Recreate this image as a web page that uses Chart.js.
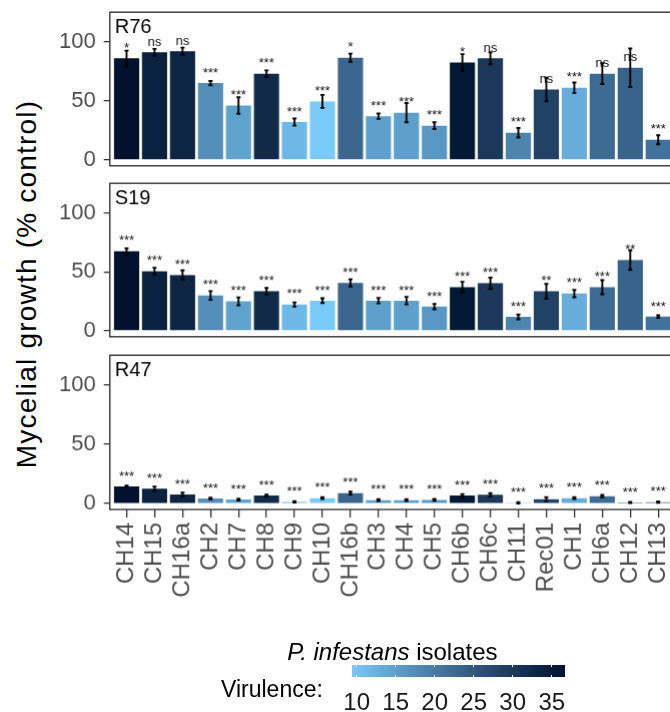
<!DOCTYPE html>
<html>
<head>
<meta charset="utf-8">
<script src="https://cdn.jsdelivr.net/npm/chart.js@4.4.1/dist/chart.umd.min.js"></script>
<style>
  html, body { margin: 0; padding: 0; background: #fff; }
  #wrap { position: relative; width: 670px; height: 712px; overflow: hidden;
          font-family: "Liberation Sans", Arial, sans-serif; }
  #wrap canvas { position: absolute; }
  .txt { position: absolute; white-space: nowrap; line-height: 1; }
  #ytitle { left: 27px; top: 284px; font-size: 28px; letter-spacing: 1.2px; color: #000;
            transform: translate(-50%, -50%) rotate(-90deg); }
  #xtitle { top: 640px; font-size: 24px; color: #000; transform: translateX(-50%); }
  #legtitle { left: 221px; top: 678px; font-size: 23px; color: #000; }
  #colorbar { position: absolute; top: 665px; height: 12px; }
  .cbtick { position: absolute; width: 1px; background: #fff; }
  .cblab { position: absolute; top: 690px; font-size: 24px; color: #1a1a1a;
           transform: translateX(-50%); line-height: 1; }
</style>
</head>
<body>
<div id="wrap">
  <canvas id="pR76"></canvas>
  <canvas id="pS19"></canvas>
  <canvas id="pR47"></canvas>
  <div id="ytitle" class="txt">Mycelial growth (% control)</div>
  <div id="xtitle" class="txt"><i>P. infestans</i> isolates</div>
  <div id="legtitle" class="txt">Virulence:</div>
  <div id="colorbar"></div>
</div>
<script>
// Isolates, in plotting order
const categories = ['CH14','CH15','CH16a','CH2','CH7','CH8','CH9','CH10','CH16b','CH3',
                    'CH4','CH5','CH6b','CH6c','CH11','Rec01','CH1','CH6a','CH12','CH13'];

// Virulence of each isolate (fill colour)
const virulence = [36.7, 34.0, 33.5, 17.3, 14.6, 32.5, 11.6, 9.4, 23.0, 15.0,
                   15.0, 16.0, 35.6, 30.2, 18.5, 28.5, 13.2, 22.3, 23.4, 21.2];

// Mycelial growth (% of control), error and significance per antagonist strain
const r76Mean = [86, 91, 92, 65, 46, 73, 32, 49.5, 86.5, 37, 40, 29, 82.5, 86, 23, 59.5, 61, 73, 78, 17];
const r76Err  = [6.5, 3, 3, 1.8, 7, 2.8, 3, 5.5, 3.4, 2.3, 8.2, 2.8, 7, 5, 4, 10, 4.5, 8.8, 16.3, 3.8];
const r76Sig  = ['*','ns','ns','***','***','***','***','***','*','***','***','***','*','ns','***','ns','***','ns','ns','***'];

const s19Mean = [67.4, 50.5, 47.3, 30, 25, 33.5, 22.3, 25.6, 40.6, 25.6, 25.6, 20.5, 37, 40.3, 11.8, 33.5, 31.6, 37, 60, 12];
const s19Err  = [2.5, 3, 4, 3.7, 3.4, 2.8, 1.8, 2, 3, 2.3, 3.2, 2.3, 4.6, 4.8, 2, 6.3, 3.1, 6, 8.3, 1.1];
const s19Sig  = ['***','***','***','***','***','***','***','***','***','***','***','***','***','***','***','**','***','***','**','***'];

const r47Mean = [14.4, 12.5, 7.7, 4.3, 3.4, 6.8, 1.4, 4.6, 8.8, 2.9, 2.9, 3.1, 6.8, 7.4, 0.6, 3.7, 4.6, 6.3, 0.9, 1.2];
const r47Err  = [0.7, 1.8, 1.5, 0.7, 0.8, 0.8, 0.6, 0.8, 1.2, 0.8, 0.8, 0.8, 1.2, 1.3, 0.5, 1.6, 0.8, 1.0, 0.4, 0.5];
const r47Sig  = ['***','***','***','***','***','***','***','***','***','***','***','***','***','***','***','***','***','***','***','***'];

const yTicks = [0, 50, 100];
const legendBreaks = [10, 15, 20, 25, 30, 35];
const SIG_OFFSET = 5.4;   // significance text sits this far above the mean

// ---- continuous fill scale, interpolated in CIELAB ----
const LOW = '#79C9F9', HIGH = '#02112E';
function hexToRgb(h) { const n = parseInt(h.slice(1), 16); return [(n >> 16) & 255, (n >> 8) & 255, n & 255]; }
function toLin(c) { c /= 255; return c <= 0.04045 ? c / 12.92 : Math.pow((c + 0.055) / 1.055, 2.4); }
function toSrgb(c) { const v = c <= 0.0031308 ? 12.92 * c : 1.055 * Math.pow(c, 1 / 2.4) - 0.055;
  return Math.round(Math.max(0, Math.min(1, v)) * 255); }
function rgbToLab(rgb) {
  const [R, G, B] = rgb.map(toLin);
  const X = (0.4124 * R + 0.3576 * G + 0.1805 * B) / 0.95047;
  const Y = (0.2126 * R + 0.7152 * G + 0.0722 * B);
  const Z = (0.0193 * R + 0.1192 * G + 0.9505 * B) / 1.08883;
  const f = t => t > 0.008856 ? Math.cbrt(t) : 7.787 * t + 16 / 116;
  const fx = f(X), fy = f(Y), fz = f(Z);
  return [116 * fy - 16, 500 * (fx - fy), 200 * (fy - fz)];
}
function labToRgb(lab) {
  const fy = (lab[0] + 16) / 116, fx = fy + lab[1] / 500, fz = fy - lab[2] / 200;
  const inv = t => t * t * t > 0.008856 ? t * t * t : (t - 16 / 116) / 7.787;
  const X = inv(fx) * 0.95047, Y = inv(fy), Z = inv(fz) * 1.08883;
  return [ 3.2406 * X - 1.5372 * Y - 0.4986 * Z,
          -0.9689 * X + 1.8758 * Y + 0.0415 * Z,
           0.0557 * X - 0.2040 * Y + 1.0570 * Z].map(toSrgb);
}
const labLow = rgbToLab(hexToRgb(LOW)), labHigh = rgbToLab(hexToRgb(HIGH));
const vMin = Math.min(...virulence), vMax = Math.max(...virulence);
function fillFor(v) {
  const t = (v - vMin) / (vMax - vMin);
  const lab = labLow.map((c, k) => c + (labHigh[k] - c) * t);
  const [r, g, b] = labToRgb(lab);
  return `rgb(${r},${g},${b})`;
}

// ---- panel decorations: error bars, significance, strip label, border ----
const panelDecor = {
  id: 'panelDecor',
  afterDatasetsDraw(chart, args, opts) {
    const { ctx, chartArea: a, scales: { x, y } } = chart;
    ctx.save();
    ctx.beginPath(); ctx.rect(a.left, a.top, a.right - a.left, a.bottom - a.top); ctx.clip();
    ctx.strokeStyle = '#000'; ctx.lineWidth = 1.9;
    opts.mean.forEach((m, i) => {
      const px = x.getPixelForValue(i);
      const hi = y.getPixelForValue(m + opts.err[i]);
      const lo = y.getPixelForValue(m - opts.err[i]);
      ctx.beginPath();
      ctx.moveTo(px, hi); ctx.lineTo(px, lo);
      ctx.moveTo(px - 2, hi); ctx.lineTo(px + 2, hi);
      ctx.moveTo(px - 2, lo); ctx.lineTo(px + 2, lo);
      ctx.stroke();
    });
    ctx.fillStyle = '#111';
    ctx.font = '13px "Liberation Sans", Arial, sans-serif';
    ctx.textAlign = 'center'; ctx.textBaseline = 'alphabetic';
    opts.sig.forEach((s, i) => {
      const px = x.getPixelForValue(i);
      const py = y.getPixelForValue(opts.mean[i] + SIG_OFFSET);
      ctx.fillText(s, px, py);
    });
    ctx.fillStyle = '#000';
    ctx.font = '20px "Liberation Sans", Arial, sans-serif';
    ctx.textAlign = 'left';
    ctx.fillText(opts.label, a.left + 5, a.top + 20.5);
    ctx.restore();
    ctx.save();
    ctx.strokeStyle = '#333'; ctx.lineWidth = 1.4;
    ctx.strokeRect(a.left, a.top, a.right - a.left, a.bottom - a.top);
    ctx.restore();
  }
};

const PANEL_LEFT = 110;
const PANEL_RIGHT = 674.8;   // panel runs past the right edge of the page
const X_AXIS_H = 190;        // room under the bottom panel for tick labels

function buildPanel(cfg, left, top, w, h) {
  const cv = document.getElementById(cfg.id);
  cv.width = w; cv.height = h;
  cv.style.left = left + 'px'; cv.style.top = top + 'px';
  cv.style.width = w + 'px'; cv.style.height = h + 'px';
  const xScale = {
    type: 'linear', min: -0.6, max: 19.6, offset: false,
    display: cfg.showX,
    afterBuildTicks: s => { s.ticks = categories.map((_, i) => ({ value: i })); },
    grid: { offset: false, drawOnChartArea: false, drawTicks: true, tickLength: 8, color: '#333', lineWidth: 1.3 },
    border: { display: false },
    ticks: {
      autoSkip: false, minRotation: 90, maxRotation: 90, padding: 5,
      color: '#4d4d4d', font: { size: 24, family: '"Liberation Sans", Arial, sans-serif' },
      callback: v => categories[v]
    }
  };
  if (cfg.showX) xScale.afterFit = s => { s.height = X_AXIS_H; };
  return new Chart(cv, {
    type: 'bar',
    data: {
      datasets: [{
        data: cfg.mean.map((v, i) => ({ x: i, y: v })),
        backgroundColor: virulence.map(fillFor),
        borderWidth: 0,
        barPercentage: 0.9,
        categoryPercentage: 1.0
      }]
    },
    options: {
      responsive: false, maintainAspectRatio: false, animation: false, devicePixelRatio: 1,
      layout: { padding: 0 },
      plugins: {
        legend: { display: false }, tooltip: { enabled: false },
        panelDecor: { label: cfg.label, mean: cfg.mean, err: cfg.err, sig: cfg.sig }
      },
      scales: {
        x: xScale,
        y: {
          min: -5, max: 125,
          afterBuildTicks: s => { s.ticks = yTicks.map(v => ({ value: v })); },
          grid: { drawOnChartArea: false, drawTicks: true, tickLength: 6, color: '#333', lineWidth: 1.3 },
          border: { display: false },
          ticks: {
            padding: 8, color: '#4d4d4d',
            font: { size: 22, family: '"Liberation Sans", Arial, sans-serif' }
          }
        }
      }
    },
    plugins: [panelDecor]
  });
}

// size each canvas so that its plotting area lands on the panel box
function placePanel(cfg) {
  let left = 0, top = cfg.top - 20, w = 700, h = cfg.bottom - cfg.top + 40 + (cfg.showX ? X_AXIS_H : 0);
  let chart = null;
  for (let k = 0; k < 4; k++) {
    if (chart) chart.destroy();
    chart = buildPanel(cfg, left, top, w, h);
    const a = chart.chartArea;
    const dl = a.left, dr = w - a.right, dt = a.top, db = h - a.bottom;
    left = PANEL_LEFT - dl;
    w = (PANEL_RIGHT + dr) - left;
    top = cfg.top - dt;
    h = (cfg.bottom + db) - top;
  }
  return chart;
}

placePanel({ id: 'pR76', label: 'R76', mean: r76Mean, err: r76Err, sig: r76Sig, top: 11.7, bottom: 165, showX: false });
placePanel({ id: 'pS19', label: 'S19', mean: s19Mean, err: s19Err, sig: s19Sig, top: 183.3, bottom: 335.7, showX: false });
placePanel({ id: 'pR47', label: 'R47', mean: r47Mean, err: r47Err, sig: r47Sig, top: 355, bottom: 509.3, showX: true });

// x-axis title centred on the panel
document.getElementById('xtitle').style.left = ((PANEL_LEFT + PANEL_RIGHT) / 2) + 'px';

// colour bar legend
const CB_LEFT = 352, CB_W = 213, CB_H = 12;
const cb = document.getElementById('colorbar');
cb.style.left = CB_LEFT + 'px'; cb.style.width = CB_W + 'px';
const stops = [];
for (let k = 0; k <= 20; k++) {
  const v = vMin + (vMax - vMin) * k / 20;
  stops.push(`${fillFor(v)} ${(k * 5)}%`);
}
cb.style.background = `linear-gradient(to right, ${stops.join(', ')})`;
const wrap = document.getElementById('wrap');
legendBreaks.forEach(b => {
  const px = (b - vMin) / (vMax - vMin) * CB_W;
  [0, CB_H - 2.4].forEach(t => {
    const tk = document.createElement('div');
    tk.className = 'cbtick';
    tk.style.left = (px - 0.5) + 'px'; tk.style.top = t + 'px'; tk.style.height = '2.4px';
    cb.appendChild(tk);
  });
  const lab = document.createElement('div');
  lab.className = 'cblab';
  lab.textContent = b;
  lab.style.left = (CB_LEFT + px) + 'px';
  wrap.appendChild(lab);
});
</script>
</body>
</html>
